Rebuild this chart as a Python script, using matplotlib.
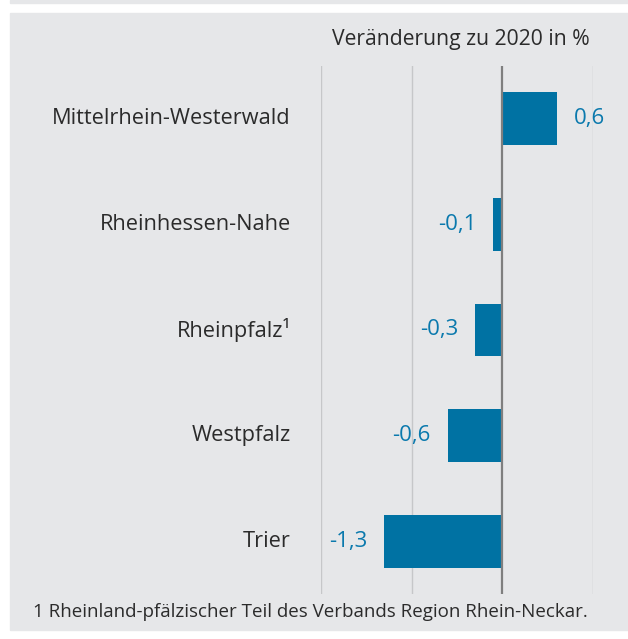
import matplotlib.pyplot as plt
from matplotlib.patches import Rectangle

regions = ["Mittelrhein-Westerwald", "Rheinhessen-Nahe", "Rheinpfalz¹", "Westpfalz", "Trier"]
change = [0.6, -0.1, -0.3, -0.6, -1.3]
value_labels = ["0,6", "-0,1", "-0,3", "-0,6", "-1,3"]
grid_ticks = [-2, -1, 0, 1]

panel_bg = "#e6e7e9"
bar_color = "#0072a3"
value_color = "#0a79ad"
text_color = "#2b2b2b"

plt.rcParams["font.family"] = ["Open Sans", "DejaVu Sans"]

W, H = 628, 639
fig = plt.figure(figsize=(W / 100, H / 100), dpi=100)
fig.patch.set_facecolor("white")

# grey panel behind the chart, plus the sliver of the block above it
fig.patches.append(Rectangle((10 / W, 1 - 630 / H), 618 / W, 617 / H,
                             transform=fig.transFigure, color=panel_bg, zorder=-5))
fig.patches.append(Rectangle((10 / W, 1 - 3 / H), 618 / W, 3 / H,
                             transform=fig.transFigure, color=panel_bg, zorder=-5))

ax = fig.add_axes([320.7 / W, 1 - 594 / H, 272.6 / W, 528 / H])
ax.set_facecolor("none")
ypos = list(range(len(regions)))
ax.barh(ypos, change, height=0.5, color=bar_color, zorder=3)

for t in grid_ticks:
    if t == 0:
        ax.axvline(t, color="#7f7f7f", linewidth=1.6, zorder=4)
    else:
        ax.axvline(t, color="#c6c7c9", linewidth=1.0, zorder=1)

ax.set_xlim(-2, 1)
ax.set_ylim(len(regions) - 0.5, -0.5)
ax.set_xticks([])
ax.set_yticks([])
for s in ax.spines.values():
    s.set_visible(False)

for y, v, lab, name in zip(ypos, change, value_labels, regions):
    if v >= 0:
        ax.annotate(lab, (v, y), xytext=(12, 0), textcoords="offset points",
                    ha="left", va="center", color=value_color, fontsize=16)
    else:
        ax.annotate(lab, (v, y), xytext=(-12.2, 0), textcoords="offset points",
                    ha="right", va="center", color=value_color, fontsize=16)
    fig.text(291 / W, 1 - (66 + 105.6 * (y + 0.5)) / H, name, ha="right", va="center",
             color=text_color, fontsize=15.7)

fig.text(590 / W, 1 - 40 / H, "Veränderung zu 2020 in %", ha="right", va="center",
         color=text_color, fontsize=15.2)
fig.text(33 / W, 1 - 612 / H, "1 Rheinland-pfälzischer Teil des Verbands Region Rhein-Neckar.",
         ha="left", va="center", color=text_color, fontsize=13.5)

fig.savefig("out.png", dpi=100)
